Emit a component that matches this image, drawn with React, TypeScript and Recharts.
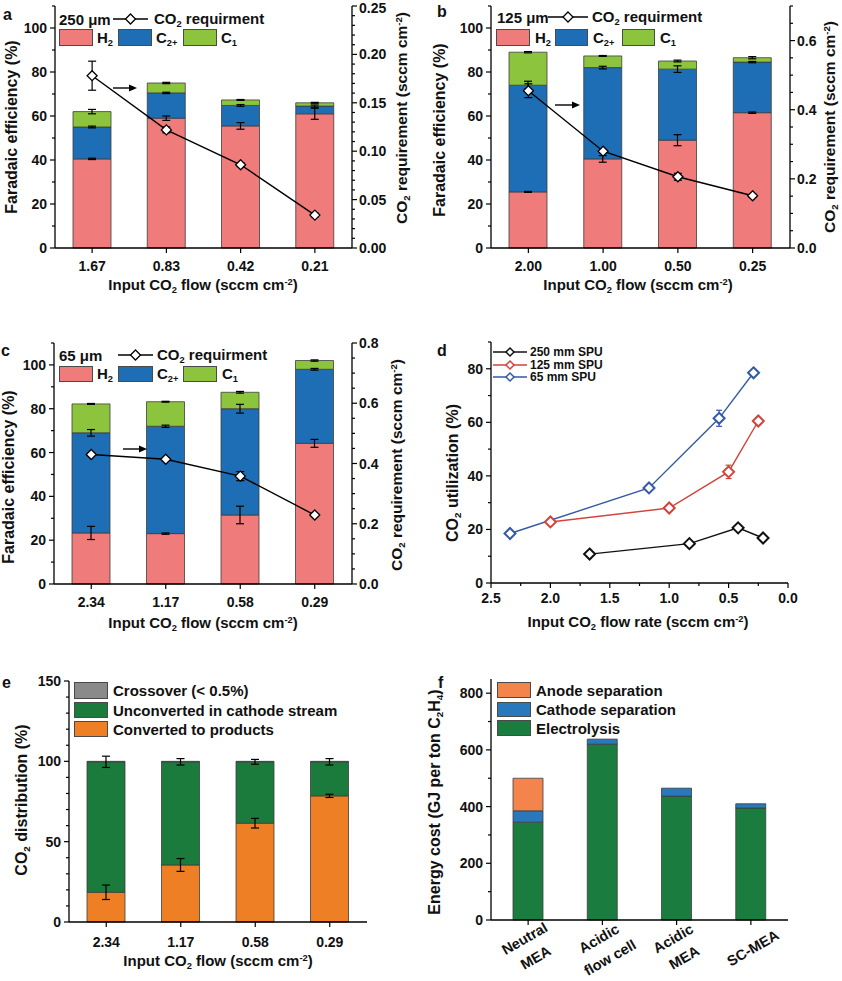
import React from 'react'
import { ComposedChart, LineChart, BarChart, Bar, Line, XAxis, YAxis, ErrorBar } from 'recharts'

const FONT = '"Liberation Sans", Arial, Helvetica, sans-serif'
const INK = '#111'

// panel a: 250 um SPU
const flowA = ['1.67', '0.83', '0.42', '0.21']
const h2A = [40.5, 59, 55.5, 61]
const h2ErrA = [0.3, 1, 1.5, 2.5]
const c2A = [14.5, 11.5, 9.3, 3.5]
const c2ErrA = [0.4, 0.3, 0.4, 0.5]
const c1A = [7, 4.5, 2.5, 1.5]
const c1ErrA = [1, 0.3, 0.2, 0.2]
const reqA = [0.178, 0.122, 0.086, 0.034]
const reqErrA = [0.015, 0.003, 0.002, 0.002]

// panel b: 125 um SPU
const flowB = ['2.00', '1.00', '0.50', '0.25']
const h2B = [25.5, 40.5, 49, 61.5]
const h2ErrB = [0.2, 1.5, 2.5, 0.3]
const c2B = [48.5, 41.5, 32.3, 23]
const c2ErrB = [1.8, 0.6, 1.5, 0.3]
const c1B = [15, 5.3, 3.7, 2]
const c1ErrB = [0.3, 0.2, 0.4, 0.5]
const reqB = [0.455, 0.28, 0.206, 0.151]
const reqErrB = [0.02, 0.005, 0.01, 0.004]

// panel c: 65 um SPU
const flowC = ['2.34', '1.17', '0.58', '0.29']
const h2C = [23.3, 23, 31.5, 64.2]
const h2ErrC = [3, 0.3, 4, 1.8]
const c2C = [45.7, 49, 48.5, 33.8]
const c2ErrC = [1.5, 0.5, 2, 0.4]
const c1C = [13.2, 11.2, 7.5, 4]
const c1ErrC = [0.2, 0.2, 0.4, 0.3]
const reqC = [0.43, 0.414, 0.358, 0.229]
const reqErrC = [0.005, 0.005, 0.015, 0.005]

// panel d: CO2 utilization
const flow250 = [1.67, 0.83, 0.42, 0.21]
const util250 = [10.8, 14.7, 20.6, 16.8]
const util250Err = [0.8, 1, 1, 0.8]
const flow125 = [2.0, 1.0, 0.5, 0.25]
const util125 = [22.8, 28, 41.5, 60.5]
const util125Err = [0.8, 1, 2.5, 1]
const flow65 = [2.34, 1.17, 0.58, 0.29]
const util65 = [18.5, 35.5, 61.5, 78.5]
const util65Err = [0.8, 1, 3, 0.8]

// panel e: CO2 distribution
const flowE = ['2.34', '1.17', '0.58', '0.29']
const convertedE = [18.5, 35.5, 61.5, 78.5]
const convertedErrE = [4.5, 4, 3, 1]
const unconvertedE = [81.2, 64.2, 38.2, 21.2]
const unconvertedErrE = [3.5, 2, 1.5, 2]
const crossoverE = [0.3, 0.3, 0.3, 0.3]

// panel f: energy cost
const systemsF = ['Neutral\nMEA', 'Acidic\nflow cell', 'Acidic\nMEA', 'SC-MEA']
const electrolysisF = [345, 620, 437, 395]
const cathodeSepF = [40, 18, 28, 15]
const anodeSepF = [115, 0, 0, 0]

// tick labels
const feMajors = [0, 20, 40, 60, 80, 100]
const reqMajorsA = [0, 0.05, 0.1, 0.15, 0.2, 0.25]
const reqMajorsB = [0, 0.2, 0.4, 0.6]
const reqMajorsC = [0, 0.2, 0.4, 0.6, 0.8]
const utilMajors = [0, 20, 40, 60, 80]
const flowMajorsD = [0, 0.5, 1, 1.5, 2, 2.5]
const distMajors = [0, 50, 100, 150]
const energyMajors = [0, 200, 400, 600, 800]

const H2_RED = '#EF7B7B'
const C2_BLUE = '#1E6EB5'
const C1_GREEN = '#8DC43E'
const EDGE = '#3d3d3d'
const AXLINE = { stroke: '#000', strokeWidth: 1.3 }

const steps = (max: number, step: number) =>
  Array.from({ length: Math.round(max / step) + 1 }, (_, i) => +(i * step).toFixed(4))

const feRows = (flow: string[], h2: number[], h2e: number[], c2: number[], c2e: number[], c1: number[], c1e: number[], req: number[], reqe: number[]) =>
  flow.map((f, i) => ({ flow: f, h2: h2[i], h2Err: h2e[i], c2: c2[i], c2Err: c2e[i], c1: c1[i], c1Err: c1e[i], req: req[i], reqErr: reqe[i] }))

const dataA = feRows(flowA, h2A, h2ErrA, c2A, c2ErrA, c1A, c1ErrA, reqA, reqErrA)
const dataB = feRows(flowB, h2B, h2ErrB, c2B, c2ErrB, c1B, c1ErrB, reqB, reqErrB)
const dataC = feRows(flowC, h2C, h2ErrC, c2C, c2ErrC, c1C, c1ErrC, reqC, reqErrC)
const pts = (x: number[], y: number[], e: number[]) => x.map((flow, i) => ({ flow, util: y[i], err: e[i] }))
const dataE = flowE.map((flow, i) => ({ flow, conv: convertedE[i], convErr: convertedErrE[i], unconv: unconvertedE[i], unconvErr: unconvertedErrE[i], cross: crossoverE[i] }))
const dataF = systemsF.map((sys, i) => ({ sys, elec: electrolysisF[i], cath: cathodeSepF[i], anode: anodeSepF[i] }))

const txtAttr = { fontFamily: FONT, fontWeight: 700, fontSize: 14, fill: INK }

function numTick(side: 'left' | 'right' | 'bottom', majors: number[], fmt: (v: number) => string, gap = 23) {
  return (p: any) => {
    const v = Number(p.payload?.value)
    const major = majors.some((m) => Math.abs(m - v) < 1e-6)
    const len = major ? 5 : 3
    // keep labels at the very top of the page inside the picture
    const ly = Math.max(p.y, 8)
    if (side === 'left')
      return (
        <g>
          <line x1={p.x} x2={p.x - len} y1={p.y} y2={p.y} stroke="#000" strokeWidth={1.2} />
          {major && <text x={p.x - 8} y={ly} dy="0.36em" textAnchor="end" {...txtAttr}>{fmt(v)}</text>}
        </g>
      )
    if (side === 'right')
      return (
        <g>
          <line x1={p.x} x2={p.x + len} y1={p.y} y2={p.y} stroke="#000" strokeWidth={1.2} />
          {major && <text x={p.x + 7} y={ly} dy="0.36em" textAnchor="start" {...txtAttr}>{fmt(v)}</text>}
        </g>
      )
    return (
      <g>
        <line x1={p.x} x2={p.x} y1={p.y} y2={p.y + len} stroke="#000" strokeWidth={1.2} />
        {major && <text x={p.x} y={p.y + gap} textAnchor="middle" {...txtAttr}>{fmt(v)}</text>}
      </g>
    )
  }
}

const catTick = (gap = 23) => (p: any) => (
  <g>
    <line x1={p.x} x2={p.x} y1={p.y} y2={p.y + 5} stroke="#000" strokeWidth={1.2} />
    <text x={p.x} y={p.y + gap} textAnchor="middle" {...txtAttr}>{p.payload?.value}</text>
  </g>
)

const sysTick = (p: any) => {
  const lines = String(p.payload?.value).split('\n')
  const n = lines.length
  return (
    <g>
      <line x1={p.x} x2={p.x} y1={p.y} y2={p.y + 5} stroke="#000" strokeWidth={1.2} />
      <g transform={`translate(${p.x + 2},${p.y + 28}) rotate(-30)`}>
        {lines.map((s, i) => (
          <text key={i} x={0} y={(i - (n - 1) / 2) * 22} dy="0.35em" textAnchor="middle" {...txtAttr} fontSize={14.5}>{s}</text>
        ))}
      </g>
    </g>
  )
}

const diamondDot = (color: string, r: number, sw: number) => (p: any) => {
  const { cx, cy, index } = p
  if (cx == null || cy == null) return <g key={index} />
  return <path key={index} d={`M${cx},${cy - r}L${cx + r},${cy}L${cx},${cy + r}L${cx - r},${cy}Z`} fill="#fff" stroke={color} strokeWidth={sw} />
}

type FEProps = {
  data: any[]
  width: number
  height: number
  margin: { top: number; left: number; right: number; bottom: number }
  yl: number
  yr: number
  rightMax: number
  rightStep: number
  rightMajors: number[]
  rightFmt: (v: number) => string
}

function FEChart({ data, width, height, margin, yl, yr, rightMax, rightStep, rightMajors, rightFmt }: FEProps) {
  const eb = { width: 4, stroke: '#000', strokeWidth: 1.2 }
  return (
    <ComposedChart width={width} height={height} data={data} margin={margin}>
      <XAxis dataKey="flow" height={40} interval={0} tickSize={0} tickMargin={0} tickLine={false} axisLine={AXLINE} tick={catTick(23)} />
      <XAxis xAxisId="top" dataKey="flow" orientation="top" height={0} tick={false} tickLine={false} axisLine={AXLINE} />
      <YAxis yAxisId="l" domain={[0, 110]} ticks={steps(110, 10)} interval={0} width={yl} tickSize={0} tickMargin={0} tickLine={false} axisLine={AXLINE} tick={numTick('left', feMajors, (v) => String(v))} />
      <YAxis yAxisId="r" orientation="right" domain={[0, rightMax]} ticks={steps(rightMax, rightStep)} interval={0} width={yr} tickSize={0} tickMargin={0} tickLine={false} axisLine={AXLINE} tick={numTick('right', rightMajors, rightFmt)} />
      <Bar yAxisId="l" dataKey="h2" stackId="fe" fill={H2_RED} stroke={EDGE} strokeWidth={0.8} barSize={38} isAnimationActive={false}>
        <ErrorBar dataKey="h2Err" {...eb} />
      </Bar>
      <Bar yAxisId="l" dataKey="c2" stackId="fe" fill={C2_BLUE} stroke={EDGE} strokeWidth={0.8} barSize={38} isAnimationActive={false}>
        <ErrorBar dataKey="c2Err" {...eb} />
      </Bar>
      <Bar yAxisId="l" dataKey="c1" stackId="fe" fill={C1_GREEN} stroke={EDGE} strokeWidth={0.8} barSize={38} isAnimationActive={false}>
        <ErrorBar dataKey="c1Err" {...eb} />
      </Bar>
      <Line yAxisId="r" dataKey="req" stroke="#000" strokeWidth={1.4} dot={diamondDot('#000', 5, 1.3)} activeDot={false} isAnimationActive={false}>
        <ErrorBar dataKey="reqErr" {...eb} />
      </Line>
    </ComposedChart>
  )
}

const Sub = ({ children }: any) => <span style={{ fontSize: '0.62em', position: 'relative', top: '0.35em' }}>{children}</span>
const Sup = ({ children }: any) => <span style={{ fontSize: '0.62em', position: 'relative', top: '-0.55em' }}>{children}</span>

const Txt = ({ x, y, size = 15, align = 'left', rot = 0, children }: any) => {
  const tx = align === 'left' ? '0' : align === 'center' ? '-50%' : '-100%'
  return (
    <div style={{ position: 'absolute', left: x, top: y, transform: `translate(${tx},-50%) rotate(${rot}deg)`, fontSize: size, fontWeight: 700, lineHeight: 1, whiteSpace: 'nowrap', color: INK, fontFamily: FONT }}>
      {children}
    </div>
  )
}

const Box = ({ x, y, w, h, c }: any) => (
  <div style={{ position: 'absolute', left: x, top: y, width: w, height: h, background: c, border: '1px solid #4a4a4a', boxSizing: 'border-box' }} />
)

const LineKey = ({ x, y, w, color = '#000', r = 5, sw = 1.3 }: any) => (
  <svg style={{ position: 'absolute', left: x, top: y - 8 }} width={w} height={16}>
    <line x1={0} x2={w} y1={8} y2={8} stroke={color} strokeWidth={1.4} />
    <path d={`M${w / 2},${8 - r}L${w / 2 + r},8L${w / 2},${8 + r}L${w / 2 - r},8Z`} fill="#fff" stroke={color} strokeWidth={sw} />
  </svg>
)

const CO2 = () => <>CO<Sub>2</Sub></>
const CM2 = () => <>(sccm cm<Sup>-2</Sup>)</>

function FELegend({ thick, tx, ty, lx, lw, ltx, by, bh, boxes }: any) {
  const labels = [<>H<Sub>2</Sub></>, <>C<Sub>2+</Sub></>, <>C<Sub>1</Sub></>]
  const colors = [H2_RED, C2_BLUE, C1_GREEN]
  return (
    <>
      <Txt x={tx} y={ty}>{thick}</Txt>
      <LineKey x={lx} y={ty} w={lw} />
      <Txt x={ltx} y={ty}><CO2 /> requirment</Txt>
      {boxes.map((b: any, i: number) => (
        <React.Fragment key={i}>
          <Box x={b.x} y={by} w={b.w} h={bh} c={colors[i]} />
          <Txt x={b.tx} y={by + bh / 2}>{labels[i]}</Txt>
        </React.Fragment>
      ))}
    </>
  )
}

const arrows = [
  { x1: 113, x2: 137, y: 88 },
  { x1: 555, x2: 580, y: 105 },
  { x1: 123, x2: 147, y: 449 },
]

export default function App() {
  const eb = { width: 4, stroke: '#000', strokeWidth: 1.2 }
  const dLines = [
    { name: '250 mm SPU', data: pts(flow250, util250, util250Err), color: '#111111' },
    { name: '125 mm SPU', data: pts(flow125, util125, util125Err), color: '#D2433B' },
    { name: '65 mm SPU', data: pts(flow65, util65, util65Err), color: '#3459A5' },
  ]
  return (
    <div style={{ position: 'absolute', left: 0, top: 0, width: 842, height: 981, background: '#fff', fontFamily: FONT, overflow: 'hidden' }}>
      {/* a */}
      <div style={{ position: 'absolute', left: 0, top: 0 }}>
        <FEChart data={dataA} width={420} height={300} margin={{ top: 6, left: 5, right: 8, bottom: 12 }} yl={50} yr={60} rightMax={0.25} rightStep={0.01} rightMajors={reqMajorsA} rightFmt={(v) => v.toFixed(2)} />
      </div>
      {/* b */}
      <div style={{ position: 'absolute', left: 420, top: 0 }}>
        <FEChart data={dataB} width={422} height={300} margin={{ top: 6, left: 11, right: 7, bottom: 12 }} yl={60} yr={45} rightMax={0.7} rightStep={0.05} rightMajors={reqMajorsB} rightFmt={(v) => v.toFixed(1)} />
      </div>
      {/* c */}
      <div style={{ position: 'absolute', left: 0, top: 320 }}>
        <FEChart data={dataC} width={420} height={320} margin={{ top: 23, left: 4, right: 8, bottom: 16 }} yl={50} yr={60} rightMax={0.8} rightStep={0.05} rightMajors={reqMajorsC} rightFmt={(v) => v.toFixed(1)} />
      </div>
      {/* d */}
      <div style={{ position: 'absolute', left: 420, top: 320 }}>
        <LineChart width={422} height={320} margin={{ top: 22, left: 11, right: 54, bottom: 17 }}>
          <XAxis type="number" dataKey="flow" domain={[0, 2.5]} reversed ticks={steps(2.5, 0.25)} interval={0} height={40} tickSize={0} tickMargin={0} tickLine={false} axisLine={AXLINE} tick={numTick('bottom', flowMajorsD, (v) => v.toFixed(1), 20)} />
          <XAxis xAxisId="top" type="number" orientation="top" domain={[0, 2.5]} reversed height={0} tick={false} tickLine={false} axisLine={AXLINE} />
          <YAxis domain={[0, 90]} ticks={steps(90, 10)} interval={0} width={60} tickSize={0} tickMargin={0} tickLine={false} axisLine={AXLINE} tick={numTick('left', utilMajors, (v) => String(v))} />
          <YAxis yAxisId="frame" orientation="right" domain={[0, 1]} width={0} tick={false} tickLine={false} axisLine={AXLINE} />
          {dLines.map((s) => (
            <Line key={s.name} data={s.data} dataKey="util" name={s.name} stroke={s.color} strokeWidth={1.4} dot={diamondDot(s.color, 5.5, 2)} activeDot={false} isAnimationActive={false}>
              <ErrorBar dataKey="err" width={3} stroke={s.color} strokeWidth={1.2} />
            </Line>
          ))}
        </LineChart>
      </div>
      {/* e */}
      <div style={{ position: 'absolute', left: 0, top: 650 }}>
        <BarChart width={420} height={331} data={dataE} margin={{ top: 31, left: 9, right: 53, bottom: 19 }}>
          <XAxis dataKey="flow" height={40} interval={0} tickSize={0} tickMargin={0} tickLine={false} axisLine={AXLINE} tick={catTick(25)} />
          <XAxis xAxisId="top" dataKey="flow" orientation="top" height={0} tick={false} tickLine={false} axisLine={AXLINE} />
          <YAxis domain={[0, 150]} ticks={steps(150, 10)} interval={0} width={60} tickSize={0} tickMargin={0} tickLine={false} axisLine={AXLINE} tick={numTick('left', distMajors, (v) => String(v))} />
          <YAxis yAxisId="frame" orientation="right" domain={[0, 1]} width={0} tick={false} tickLine={false} axisLine={AXLINE} />
          <Bar dataKey="conv" stackId="d" fill="#EE7F24" stroke={EDGE} strokeWidth={0.8} barSize={38} isAnimationActive={false}>
            <ErrorBar dataKey="convErr" {...eb} />
          </Bar>
          <Bar dataKey="unconv" stackId="d" fill="#1B7B3C" stroke={EDGE} strokeWidth={0.8} barSize={38} isAnimationActive={false}>
            <ErrorBar dataKey="unconvErr" {...eb} />
          </Bar>
          <Bar dataKey="cross" stackId="d" fill="#8A8A8A" stroke={EDGE} strokeWidth={0.8} barSize={38} isAnimationActive={false} />
        </BarChart>
      </div>
      {/* f */}
      <div style={{ position: 'absolute', left: 420, top: 650 }}>
        <BarChart width={422} height={331} data={dataF} margin={{ top: 29, left: 11, right: 54, bottom: 6 }}>
          <XAxis dataKey="sys" height={55} interval={0} tickSize={0} tickMargin={0} tickLine={false} axisLine={AXLINE} tick={sysTick} />
          <XAxis xAxisId="top" dataKey="sys" orientation="top" height={0} tick={false} tickLine={false} axisLine={AXLINE} />
          <YAxis domain={[0, 850]} ticks={steps(800, 100)} interval={0} width={60} tickSize={0} tickMargin={0} tickLine={false} axisLine={AXLINE} tick={numTick('left', energyMajors, (v) => String(v))} />
          <YAxis yAxisId="frame" orientation="right" domain={[0, 1]} width={0} tick={false} tickLine={false} axisLine={AXLINE} />
          <Bar dataKey="elec" stackId="e" fill="#1B7C3F" stroke={EDGE} strokeWidth={0.8} barSize={30} isAnimationActive={false} />
          <Bar dataKey="cath" stackId="e" fill="#2A78BC" stroke={EDGE} strokeWidth={0.8} barSize={30} isAnimationActive={false} />
          <Bar dataKey="anode" stackId="e" fill="#F2844C" stroke={EDGE} strokeWidth={0.8} barSize={30} isAnimationActive={false} />
        </BarChart>
      </div>

      {/* arrows pointing to the right-hand axis */}
      <svg style={{ position: 'absolute', left: 0, top: 0, pointerEvents: 'none' }} width={842} height={981}>
        {arrows.map((a, i) => (
          <g key={i}>
            <line x1={a.x1} x2={a.x2 - 5} y1={a.y} y2={a.y} stroke="#000" strokeWidth={1.4} />
            <path d={`M${a.x2},${a.y}L${a.x2 - 8},${a.y - 3.5}L${a.x2 - 8},${a.y + 3.5}Z`} fill="#000" />
          </g>
        ))}
      </svg>

      {/* panel letters */}
      <Txt x={3} y={15} size={16}>a</Txt>
      <Txt x={437} y={12} size={16}>b</Txt>
      <Txt x={1} y={351} size={16}>c</Txt>
      <Txt x={437} y={351} size={16}>d</Txt>
      <Txt x={2} y={683} size={16}>e</Txt>
      <Txt x={438} y={683} size={16}>f</Txt>

      {/* axis titles */}
      <Txt x={12} y={127} size={16} align="center" rot={-90}>Faradaic efficiency (%)</Txt>
      <Txt x={402} y={118} size={15.5} align="center" rot={-90}><CO2 /> requirement <CM2 /></Txt>
      <Txt x={203} y={285} align="center">Input <CO2 /> flow <CM2 /></Txt>

      <Txt x={440} y={130} size={16} align="center" rot={-90}>Faradaic efficiency (%)</Txt>
      <Txt x={830} y={127} size={15.5} align="center" rot={-90}><CO2 /> requirement <CM2 /></Txt>
      <Txt x={638} y={285} align="center">Input <CO2 /> flow <CM2 /></Txt>

      <Txt x={9} y={477} size={16} align="center" rot={-90}>Faradaic efficiency (%)</Txt>
      <Txt x={397} y={465} size={15.5} align="center" rot={-90}><CO2 /> requirement <CM2 /></Txt>
      <Txt x={203} y={623} align="center">Input <CO2 /> flow <CM2 /></Txt>

      <Txt x={453} y={473} size={16} align="center" rot={-90}><CO2 /> utilization (%)</Txt>
      <Txt x={638} y={622} align="center">Input <CO2 /> flow rate <CM2 /></Txt>

      <Txt x={22} y={800} size={16} align="center" rot={-90}><CO2 /> distribution (%)</Txt>
      <Txt x={218} y={961} align="center">Input <CO2 /> flow <CM2 /></Txt>

      <Txt x={435} y={802} size={16} align="center" rot={-90}>Energy cost (GJ per ton C<Sub>2</Sub>H<Sub>4</Sub>)</Txt>

      {/* legends */}
      <FELegend thick="250 μm" tx={59} ty={19} lx={113} lw={35} ltx={154} by={29} bh={17}
        boxes={[{ x: 59, w: 34, tx: 97 }, { x: 118, w: 34, tx: 156 }, { x: 183, w: 34, tx: 221 }]} />
      <FELegend thick="125 μm" tx={497} ty={17} lx={548} lw={40} ltx={592} by={29} bh={17}
        boxes={[{ x: 496, w: 34, tx: 535 }, { x: 555, w: 33, tx: 593 }, { x: 622, w: 33, tx: 660 }]} />
      <FELegend thick="65 μm" tx={59} ty={355} lx={118} lw={35} ltx={157} by={366} bh={16}
        boxes={[{ x: 59, w: 34, tx: 97 }, { x: 118, w: 35, tx: 157 }, { x: 183, w: 34, tx: 222 }]} />

      {dLines.map((s, i) => (
        <React.Fragment key={s.name}>
          <LineKey x={493} y={352 + i * 12.5} w={34} color={s.color} r={4} sw={1.5} />
          <Txt x={530} y={352 + i * 12.5} size={12}>{s.name}</Txt>
        </React.Fragment>
      ))}

      <Box x={74} y={682} w={34} h={17} c="#8A8A8A" />
      <Txt x={113} y={690}>Crossover (&lt; 0.5%)</Txt>
      <Box x={74} y={702} w={34} h={16} c="#1B7B3C" />
      <Txt x={113} y={710}>Unconverted in cathode stream</Txt>
      <Box x={74} y={721} w={34} h={16} c="#EE7F24" />
      <Txt x={113} y={729}>Converted to products</Txt>

      <Box x={497} y={682} w={34} h={16} c="#F2844C" />
      <Txt x={536} y={690}>Anode separation</Txt>
      <Box x={497} y={702} w={34} h={15} c="#2A78BC" />
      <Txt x={536} y={709}>Cathode separation</Txt>
      <Box x={497} y={720} w={34} h={16} c="#1B7C3F" />
      <Txt x={536} y={728}>Electrolysis</Txt>
    </div>
  )
}
